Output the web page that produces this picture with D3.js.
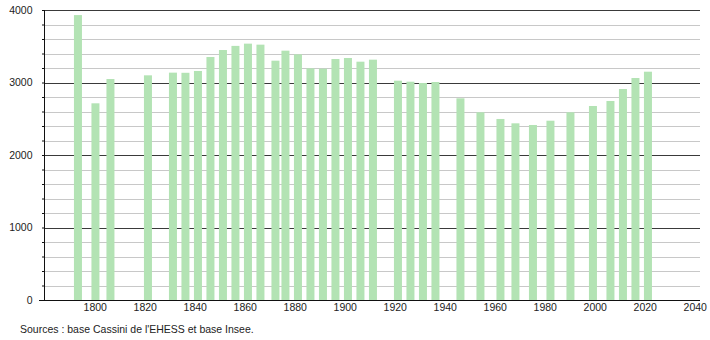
<!DOCTYPE html>
<html>
<head>
<meta charset="utf-8">
<script src="https://cdn.jsdelivr.net/npm/d3@7"></script>
<style>
  html, body { margin: 0; padding: 0; background: #fff; }
  svg { display: block; }
  text { font-family: "Liberation Sans", Arial, sans-serif; fill: #222; }
</style>
</head>
<body>
<svg id="chart" width="710" height="340"></svg>
<script>
const years = [1793, 1800, 1806, 1821, 1831, 1836, 1841, 1846, 1851, 1856, 1861, 1866, 1872, 1876, 1881, 1886, 1891, 1896, 1901, 1906, 1911, 1921, 1926, 1931, 1936, 1946, 1954, 1962, 1968, 1975, 1982, 1990, 1999, 2006, 2011, 2016, 2021];
const population = [3930, 2713, 3048, 3099, 3136, 3134, 3159, 3352, 3448, 3505, 3536, 3522, 3301, 3439, 3388, 3195, 3191, 3324, 3338, 3287, 3315, 3025, 3011, 2993, 3007, 2782, 2589, 2497, 2437, 2414, 2473, 2589, 2676, 2745, 2910, 3062, 3149];
const xTicks = [1800, 1820, 1840, 1860, 1880, 1900, 1920, 1940, 1960, 1980, 2000, 2020, 2040];
const yMajor = [0, 1000, 2000, 3000, 4000];
const yMinor = d3.range(0, 4001, 200).filter(v => v % 1000 !== 0);
const sourceText = "Sources : base Cassini de l'EHESS et base Insee.";

const svg = d3.select("#chart");
const mLeft = 44, mRight = 700, mTop = 10, mBottom = 300;

const x = d3.scaleLinear().domain([1779.7, 2042.1]).range([mLeft, mRight]);
const y = d3.scaleLinear().domain([0, 4000]).range([mBottom, mTop]);

// minor gridlines
svg.append("g").selectAll("line").data(yMinor).join("line")
  .attr("x1", mLeft).attr("x2", mRight)
  .attr("y1", d => Math.round(y(d)) + 0.5).attr("y2", d => Math.round(y(d)) + 0.5)
  .attr("stroke", "#c8c8c8").attr("stroke-width", 1);

// major gridlines
svg.append("g").selectAll("line").data(yMajor.filter(d => d > 0)).join("line")
  .attr("x1", mLeft).attr("x2", mRight)
  .attr("y1", d => Math.round(y(d)) + 0.5).attr("y2", d => Math.round(y(d)) + 0.5)
  .attr("stroke", "#3a3a3a").attr("stroke-width", 1);

// bars
const barW = 8;
svg.append("g").selectAll("rect").data(years).join("rect")
  .attr("x", d => x(d) - barW / 2 + 0.7)
  .attr("width", barW)
  .attr("y", (d, i) => y(population[i]))
  .attr("height", (d, i) => y(0) - y(population[i]))
  .attr("fill", "#b3e3b4");

// y axis
const yAxis = d3.axisLeft(y).tickValues(d3.range(0, 4001, 200)).tickSize(2.5)
  .tickFormat(d => d % 1000 === 0 ? d : "");
const gy = svg.append("g").attr("transform", `translate(${mLeft + 0.5},0)`).call(yAxis);
gy.select(".domain").attr("stroke", "#111").attr("d", `M0,${mTop}V${mBottom}`);
gy.selectAll(".tick line").attr("stroke", "#111");
gy.selectAll(".tick text").attr("x", -12).style("font-size", "10.5px")
  .style("font-family", "'Liberation Sans', Arial, sans-serif").attr("fill", "#222");

// x axis
const xAxis = d3.axisBottom(x).tickValues(xTicks).tickSize(0).tickFormat(d3.format("d"));
const gx = svg.append("g").attr("transform", `translate(0,${mBottom + 0.5})`).call(xAxis);
gx.select(".domain").attr("stroke", "#111").attr("d", `M${mLeft - 5},0H${mRight}`);
gx.selectAll(".tick text").attr("y", 3).style("font-size", "10.5px")
  .style("font-family", "'Liberation Sans', Arial, sans-serif").attr("fill", "#222");

// source
svg.append("text").attr("x", 20).attr("y", 333)
  .style("font-size", "10.5px").text(sourceText);
</script>
</body>
</html>
